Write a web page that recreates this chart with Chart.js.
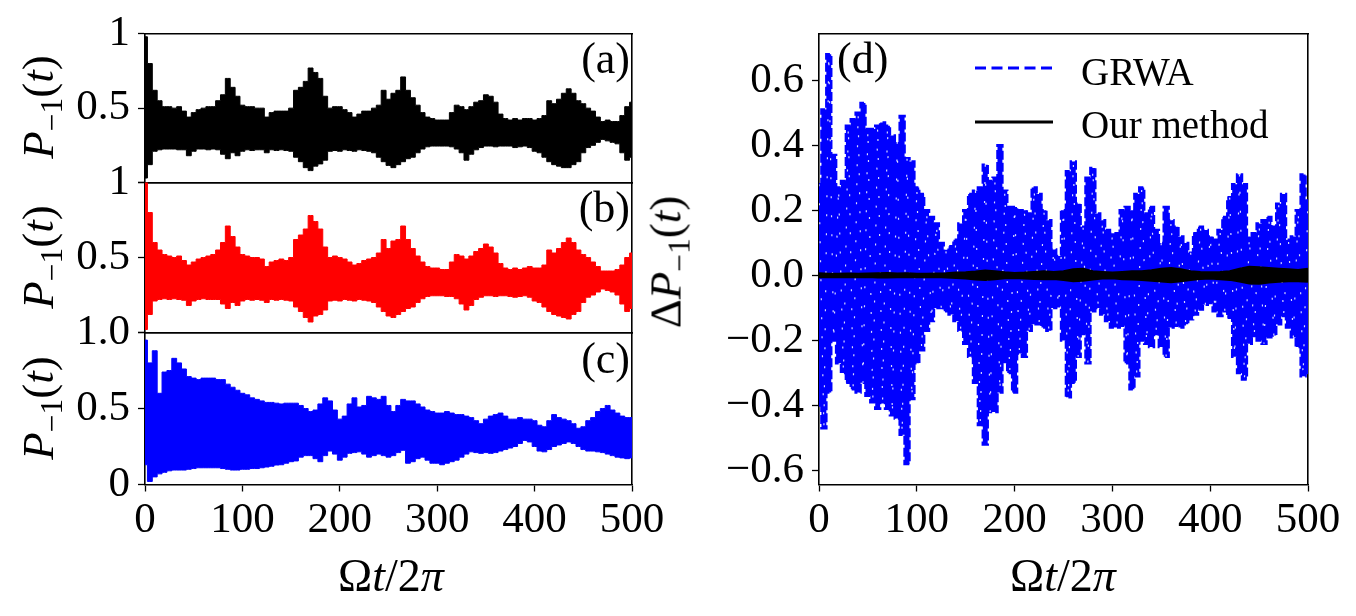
<!DOCTYPE html>
<html>
<head>
<meta charset="utf-8">
<script src="https://cdn.jsdelivr.net/npm/chart.js@4.4.1/dist/chart.umd.min.js"></script>
<style>
  body { margin: 0; background: #fff; }
  #wrap { position: relative; width: 1356px; height: 616px; overflow: hidden; background: #fff; }
  canvas { position: absolute; left: 0; top: 0; }
  .t { position: absolute; white-space: nowrap; line-height: 1; color: #000; font-family: 'Liberation Serif', serif; }
  .rot { transform: translate(-50%, -50%) rotate(-90deg); font-size: 45px; }
  .ctr { transform: translate(-50%, -50%); font-size: 46px; }
  .tag { font-size: 44px; }
  .leg { font-size: 39px; transform: translateY(-50%); }
  sub { font-size: 0.7em; vertical-align: -0.3em; line-height: 0; }
</style>
</head>
<body>
<div id="wrap">
  <canvas id="panelA" width="1356" height="616"></canvas>
  <canvas id="panelB" width="1356" height="616"></canvas>
  <canvas id="panelC" width="1356" height="616"></canvas>
  <canvas id="panelD" width="1356" height="616"></canvas>

  <div class="t rot" style="left:38px; top:107px"><i>P</i><sub>−1</sub>(<i>t</i>)</div>
  <div class="t rot" style="left:38px; top:257px"><i>P</i><sub>−1</sub>(<i>t</i>)</div>
  <div class="t rot" style="left:38px; top:408px"><i>P</i><sub>−1</sub>(<i>t</i>)</div>
  <div class="t rot" style="left:666px; top:262px">Δ<i>P</i><sub>−1</sub>(<i>t</i>)</div>
  <div class="t ctr" style="left:391px; top:576px">Ω<i>t</i>/2<i>π</i></div>
  <div class="t ctr" style="left:1063px; top:576px">Ω<i>t</i>/2<i>π</i></div>

  <div class="t tag" style="right:726px; top:37px">(a)</div>
  <div class="t tag" style="right:726px; top:186px">(b)</div>
  <div class="t tag" style="right:726px; top:337px">(c)</div>
  <div class="t tag" style="left:837px; top:37px">(d)</div>

  <svg class="t" style="left:973px; top:60px" width="82" height="16">
    <line x1="2" y1="8" x2="80" y2="8" stroke="#0000ff" stroke-width="3" stroke-dasharray="11,5.5"/>
  </svg>
  <svg class="t" style="left:973px; top:114px" width="82" height="16">
    <line x1="2" y1="8" x2="80" y2="8" stroke="#000" stroke-width="3"/>
  </svg>
  <div class="t leg" style="left:1081px; top:71px">GRWA</div>
  <div class="t leg" style="left:1081px; top:124px">Our method</div>
</div>

<script>
// Axis ticks
const xTicks = [0, 100, 200, 300, 400, 500];
const yTicksABC = [0, 0.5, 1];
const yLabelsA = ['', '0.5', '1'];
const yLabelsB = ['', '0.5', '1'];
const yLabelsC = ['0', '0.5', '1.0'];
const yTicksD = [-0.6, -0.4, -0.2, 0, 0.2, 0.4, 0.6];
const yLabelsD = ['−0.6', '−0.4', '−0.2', '0.0', '0.2', '0.4', '0.6'];

const times = [
    0, 5, 10, 15, 20, 25, 30, 35, 40, 45,
    50, 55, 60, 65, 70, 75, 80, 85, 90, 95,
    100, 105, 110, 115, 120, 125, 130, 135, 140, 145,
    150, 155, 160, 165, 170, 175, 180, 185, 190, 195,
    200, 205, 210, 215, 220, 225, 230, 235, 240, 245,
    250, 255, 260, 265, 270, 275, 280, 285, 290, 295,
    300, 305, 310, 315, 320, 325, 330, 335, 340, 345,
    350, 355, 360, 365, 370, 375, 380, 385, 390, 395,
    400, 405, 410, 415, 420, 425, 430, 435, 440, 445,
    450, 455, 460, 465, 470, 475, 480, 485, 490, 495,
    500
];

// (a) upper / lower envelope of P_-1(t)
const aUpper = [
    0.98, 0.80, 0.62, 0.55, 0.51, 0.51, 0.50, 0.51, 0.48, 0.44,
    0.47, 0.49, 0.50, 0.51, 0.51, 0.55, 0.59, 0.70, 0.64, 0.58,
    0.52, 0.51, 0.51, 0.50, 0.50, 0.44, 0.47, 0.48, 0.48, 0.48,
    0.50, 0.62, 0.64, 0.68, 0.77, 0.74, 0.70, 0.58, 0.50, 0.51,
    0.51, 0.49, 0.47, 0.44, 0.46, 0.48, 0.48, 0.50, 0.52, 0.62,
    0.56, 0.60, 0.62, 0.71, 0.62, 0.57, 0.52, 0.47, 0.44, 0.43,
    0.42, 0.42, 0.42, 0.47, 0.52, 0.51, 0.49, 0.51, 0.54, 0.55,
    0.59, 0.58, 0.54, 0.46, 0.43, 0.42, 0.43, 0.42, 0.43, 0.43,
    0.42, 0.43, 0.45, 0.55, 0.53, 0.56, 0.60, 0.63, 0.60, 0.55,
    0.53, 0.50, 0.48, 0.44, 0.41, 0.42, 0.41, 0.41, 0.45, 0.51,
    0.54
];
const aLower = [
    0.03, 0.12, 0.21, 0.22, 0.225, 0.225, 0.225, 0.22, 0.22, 0.18,
    0.21, 0.225, 0.225, 0.22, 0.225, 0.22, 0.19, 0.16, 0.20, 0.18,
    0.21, 0.22, 0.215, 0.22, 0.22, 0.20, 0.22, 0.215, 0.22, 0.215,
    0.21, 0.17, 0.14, 0.10, 0.08, 0.11, 0.125, 0.15, 0.21, 0.215,
    0.21, 0.22, 0.215, 0.21, 0.22, 0.215, 0.21, 0.20, 0.17, 0.14,
    0.115, 0.10, 0.12, 0.14, 0.16, 0.17, 0.20, 0.225, 0.24, 0.245,
    0.245, 0.245, 0.245, 0.24, 0.225, 0.20, 0.15, 0.19, 0.22, 0.235,
    0.245, 0.245, 0.24, 0.245, 0.245, 0.245, 0.235, 0.24, 0.245, 0.235,
    0.21, 0.20, 0.17, 0.14, 0.12, 0.11, 0.10, 0.10, 0.12, 0.14,
    0.20, 0.235, 0.25, 0.27, 0.29, 0.28, 0.27, 0.26, 0.20, 0.15,
    0.17
];

// (b)
const bUpper = [
    1.00, 0.80, 0.60, 0.55, 0.52, 0.51, 0.50, 0.51, 0.48, 0.45,
    0.47, 0.49, 0.50, 0.51, 0.52, 0.55, 0.60, 0.71, 0.64, 0.57,
    0.52, 0.51, 0.50, 0.50, 0.49, 0.44, 0.47, 0.48, 0.49, 0.48,
    0.50, 0.62, 0.65, 0.69, 0.78, 0.74, 0.69, 0.57, 0.50, 0.51,
    0.50, 0.49, 0.47, 0.45, 0.46, 0.48, 0.49, 0.50, 0.53, 0.62,
    0.56, 0.61, 0.62, 0.71, 0.62, 0.56, 0.51, 0.47, 0.44, 0.43,
    0.43, 0.42, 0.42, 0.47, 0.52, 0.51, 0.49, 0.51, 0.54, 0.56,
    0.59, 0.57, 0.53, 0.46, 0.43, 0.42, 0.43, 0.42, 0.43, 0.44,
    0.43, 0.43, 0.45, 0.55, 0.53, 0.56, 0.60, 0.63, 0.60, 0.55,
    0.52, 0.50, 0.47, 0.44, 0.41, 0.41, 0.41, 0.42, 0.45, 0.50,
    0.53
];
const bLower = [
    0.02, 0.12, 0.21, 0.22, 0.225, 0.22, 0.225, 0.22, 0.215, 0.18,
    0.21, 0.22, 0.225, 0.22, 0.22, 0.22, 0.19, 0.16, 0.20, 0.18,
    0.21, 0.22, 0.215, 0.22, 0.215, 0.20, 0.22, 0.215, 0.22, 0.215,
    0.21, 0.17, 0.14, 0.10, 0.07, 0.11, 0.12, 0.15, 0.21, 0.215,
    0.21, 0.22, 0.215, 0.21, 0.22, 0.215, 0.21, 0.20, 0.17, 0.14,
    0.11, 0.10, 0.12, 0.14, 0.16, 0.17, 0.20, 0.225, 0.24, 0.245,
    0.245, 0.245, 0.24, 0.24, 0.225, 0.19, 0.15, 0.18, 0.22, 0.235,
    0.245, 0.245, 0.24, 0.245, 0.245, 0.24, 0.235, 0.24, 0.245, 0.235,
    0.21, 0.20, 0.17, 0.14, 0.12, 0.11, 0.10, 0.09, 0.12, 0.14,
    0.20, 0.235, 0.25, 0.27, 0.29, 0.28, 0.27, 0.25, 0.19, 0.14,
    0.16
];

// (c)
const cUpper = [
    0.95, 0.80, 0.88, 0.60, 0.74, 0.75, 0.83, 0.80, 0.76, 0.71,
    0.70, 0.69, 0.70, 0.70, 0.70, 0.69, 0.69, 0.66, 0.64, 0.62,
    0.60, 0.59, 0.57, 0.56, 0.55, 0.54, 0.54, 0.535, 0.53, 0.535,
    0.535, 0.535, 0.52, 0.50, 0.48, 0.49, 0.53, 0.57, 0.55, 0.49,
    0.43, 0.45, 0.53, 0.57, 0.51, 0.52, 0.58, 0.57, 0.56, 0.58,
    0.52, 0.48, 0.52, 0.56, 0.55, 0.55, 0.53, 0.51, 0.49, 0.48,
    0.47, 0.47, 0.48, 0.47, 0.46, 0.46, 0.45, 0.44, 0.42, 0.40,
    0.43, 0.45, 0.46, 0.47, 0.45, 0.43, 0.43, 0.44, 0.43, 0.43,
    0.42, 0.39, 0.38, 0.42, 0.46, 0.44, 0.43, 0.42, 0.40, 0.37,
    0.38, 0.42, 0.44, 0.48, 0.50, 0.52, 0.49, 0.47, 0.45, 0.44,
    0.44
];
const cLower = [
    0.13, 0.02, 0.05, 0.07, 0.08, 0.09, 0.095, 0.095, 0.095, 0.10,
    0.105, 0.11, 0.11, 0.11, 0.11, 0.11, 0.105, 0.10, 0.095, 0.095,
    0.10, 0.10, 0.105, 0.105, 0.11, 0.115, 0.12, 0.128, 0.13, 0.14,
    0.15, 0.155, 0.18, 0.19, 0.19, 0.17, 0.15, 0.19, 0.22, 0.20,
    0.16, 0.18, 0.205, 0.21, 0.215, 0.20, 0.18, 0.19, 0.20, 0.19,
    0.18, 0.19, 0.21, 0.225, 0.14, 0.15, 0.17, 0.18, 0.16, 0.14,
    0.14, 0.13, 0.14, 0.15, 0.16, 0.18, 0.20, 0.215, 0.21, 0.205,
    0.21, 0.205, 0.21, 0.22, 0.23, 0.24, 0.25, 0.27, 0.29, 0.28,
    0.25, 0.22, 0.215, 0.23, 0.25, 0.26, 0.27, 0.28, 0.27, 0.25,
    0.23, 0.22, 0.22, 0.215, 0.21, 0.20, 0.19, 0.18, 0.175, 0.17,
    0.175
];

// (d) GRWA error envelope
const grwaUpper = [
    0.28, 0.51, 0.68, 0.37, 0.27, 0.29, 0.46, 0.48, 0.50, 0.53,
    0.45, 0.45, 0.46, 0.47, 0.46, 0.43, 0.41, 0.49, 0.36, 0.35,
    0.27, 0.25, 0.20, 0.18, 0.16, 0.10, 0.075, 0.09, 0.11, 0.16,
    0.20, 0.25, 0.26, 0.27, 0.34, 0.29, 0.30, 0.40, 0.26, 0.21,
    0.21, 0.20, 0.20, 0.19, 0.27, 0.25, 0.20, 0.17, 0.08, 0.06,
    0.20, 0.32, 0.35, 0.22, 0.15, 0.30, 0.33, 0.19, 0.17, 0.14,
    0.13, 0.13, 0.20, 0.21, 0.20, 0.25, 0.27, 0.19, 0.21, 0.14,
    0.10, 0.21, 0.17, 0.15, 0.12, 0.10, 0.07, 0.13, 0.15, 0.14,
    0.12, 0.11, 0.14, 0.18, 0.24, 0.28, 0.31, 0.28, 0.12, 0.13,
    0.16, 0.17, 0.18, 0.15, 0.22, 0.25, 0.11, 0.12, 0.20, 0.31,
    0.23
];
const grwaLower = [
    -0.40, -0.47, -0.36, -0.20, -0.27, -0.30, -0.33, -0.35, -0.36, -0.33,
    -0.37, -0.39, -0.41, -0.39, -0.41, -0.43, -0.44, -0.49, -0.58, -0.38,
    -0.27, -0.23, -0.17, -0.14, -0.10, -0.10, -0.11, -0.12, -0.14, -0.17,
    -0.21, -0.25, -0.33, -0.46, -0.52, -0.42, -0.42, -0.36, -0.27, -0.30,
    -0.36, -0.24, -0.25, -0.17, -0.15, -0.15, -0.16, -0.17, -0.10, -0.095,
    -0.20, -0.375, -0.33, -0.25, -0.18, -0.27, -0.11, -0.10, -0.12, -0.14,
    -0.16, -0.16, -0.155, -0.27, -0.35, -0.31, -0.20, -0.21, -0.22, -0.18,
    -0.22, -0.25, -0.16, -0.155, -0.16, -0.15, -0.135, -0.12, -0.105, -0.09,
    -0.085, -0.11, -0.125, -0.11, -0.13, -0.25, -0.30, -0.32, -0.21, -0.19,
    -0.20, -0.21, -0.19, -0.185, -0.15, -0.125, -0.16, -0.19, -0.22, -0.31,
    -0.30
];

// (d) our method error envelope
const timesOurs = [
    0, 10, 20, 30, 40, 50, 60, 70, 80, 90,
    100, 110, 120, 130, 140, 150, 160, 170, 180, 190,
    200, 210, 220, 230, 240, 250, 260, 270, 280, 290,
    300, 310, 320, 330, 340, 350, 360, 370, 380, 390,
    400, 410, 420, 430, 440, 450, 460, 470, 480, 490,
    500
];
const oursUpper = [
    0.006, 0.004, 0.004, 0.005, 0.004, 0.005, 0.006, 0.007, 0.005, 0.006,
    0.004, 0.004, 0.005, 0.006, 0.008, 0.009, 0.011, 0.014, 0.012, 0.009,
    0.007, 0.008, 0.010, 0.012, 0.010, 0.012, 0.018, 0.020, 0.012, 0.010,
    0.008, 0.010, 0.012, 0.012, 0.015, 0.020, 0.022, 0.018, 0.012, 0.010,
    0.009, 0.010, 0.012, 0.020, 0.026, 0.024, 0.022, 0.020, 0.018, 0.016,
    0.020
];
const oursLower = [
    -0.005, -0.004, -0.005, -0.004, -0.005, -0.004, -0.006, -0.006, -0.005, -0.005,
    -0.004, -0.005, -0.004, -0.006, -0.007, -0.009, -0.012, -0.013, -0.011, -0.008,
    -0.007, -0.009, -0.010, -0.011, -0.010, -0.013, -0.017, -0.016, -0.012, -0.009,
    -0.008, -0.011, -0.012, -0.013, -0.016, -0.018, -0.020, -0.017, -0.013, -0.010,
    -0.009, -0.011, -0.013, -0.018, -0.024, -0.025, -0.021, -0.019, -0.017, -0.017,
    -0.019
];

const W = 1356, H = 616;
const tickFont = { family: 'Liberation Serif', size: 43 };
const frame = { display: true, color: '#000', width: 1.6 };

const pts = (xs, ys) => xs.map((x, i) => ({ x: x, y: ys[i] }));

// GRWA curve swings from one envelope to the other between samples
const swing = (xs, hi, lo) => xs.map((x, i) => ({ x: x, y: i % 2 ? lo[i] : hi[i] }));

// one panel, chart area pinned to box
function makePanel(id, box, datasets, yAxis) {
    const showX = !!box.showX;
    return new Chart(document.getElementById(id), {
        type: 'line',
        data: { datasets: datasets },
        options: {
            responsive: false,
            animation: false,
            devicePixelRatio: 1,
            layout: {
                padding: { left: 0, top: box.top, right: W - box.right, bottom: showX ? 0 : H - box.bottom }
            },
            plugins: { legend: { display: false }, tooltip: { enabled: false } },
            elements: { point: { radius: 0 }, line: { tension: 0 } },
            scales: {
                x: {
                    type: 'linear', position: 'bottom', min: 0, max: 500,
                    afterBuildTicks: s => { s.ticks = xTicks.map(v => ({ value: v })); },
                    afterFit: s => { s.height = showX ? H - box.bottom : 0; },
                    ticks: { display: showX, autoSkip: false, maxRotation: 0, padding: 3, color: '#000', font: tickFont },
                    grid: { drawOnChartArea: false, drawTicks: showX, tickLength: 7, tickWidth: 1.3, tickColor: '#000' },
                    border: frame
                },
                xTop: {
                    type: 'linear', position: 'top', min: 0, max: 500,
                    afterFit: s => { s.height = 0; },
                    ticks: { display: false },
                    grid: { display: false, drawTicks: false },
                    border: frame
                },
                y: {
                    type: 'linear', position: 'left', min: yAxis.min, max: yAxis.max,
                    afterBuildTicks: s => { s.ticks = yAxis.ticks.map(v => ({ value: v })); },
                    afterFit: s => { s.width = box.left; },
                    ticks: { autoSkip: false, padding: 8, color: '#000', font: tickFont, callback: (v, i) => yAxis.labels[i] },
                    grid: { drawOnChartArea: false, tickLength: 7, tickWidth: 1.3, tickColor: '#000' },
                    border: frame
                },
                yRight: {
                    type: 'linear', position: 'right', min: yAxis.min, max: yAxis.max,
                    afterFit: s => { s.width = 0; },
                    ticks: { display: false },
                    grid: { display: false, drawTicks: false },
                    border: frame
                }
            }
        }
    });
}

function band(xs, upper, lower, color) {
    return [
        { data: pts(xs, upper), borderColor: color, backgroundColor: color, borderWidth: 1, stepped: 'middle', fill: '+1' },
        { data: pts(xs, lower), borderColor: color, backgroundColor: color, borderWidth: 1, stepped: 'middle', fill: false }
    ];
}

makePanel('panelA', { left: 145, right: 632, top: 31.5, bottom: 182.5 },
    band(times, aUpper, aLower, '#000000'),
    { min: 0, max: 1, ticks: yTicksABC, labels: yLabelsA });

makePanel('panelB', { left: 145, right: 632, top: 182.5, bottom: 332.5 },
    band(times, bUpper, bLower, '#ff0000'),
    { min: 0, max: 1, ticks: yTicksABC, labels: yLabelsB });

makePanel('panelC', { left: 145, right: 632, top: 332.5, bottom: 484.5, showX: true },
    band(times, cUpper, cLower, '#0000ff'),
    { min: 0, max: 1, ticks: yTicksABC, labels: yLabelsC });

makePanel('panelD', { left: 819, right: 1308, top: 31.5, bottom: 484.5, showX: true },
    [
        { data: pts(timesOurs, oursUpper), borderColor: '#000', backgroundColor: '#000', borderWidth: 2.5, fill: '+1' },
        { data: pts(timesOurs, oursLower), borderColor: '#000', backgroundColor: '#000', borderWidth: 2.5, fill: false },
        { data: swing(times, grwaUpper, grwaLower), borderColor: 'rgba(255,255,255,0.85)', borderWidth: 1.2, borderDash: [2, 17], fill: false },
        { data: pts(times, grwaUpper), borderColor: '#0000ff', backgroundColor: '#0000ff', borderWidth: 2.5, borderDash: [9, 3], stepped: 'middle', fill: '+1' },
        { data: pts(times, grwaLower), borderColor: '#0000ff', backgroundColor: '#0000ff', borderWidth: 2.5, borderDash: [9, 3], stepped: 'middle', fill: false }
    ],
    { min: -0.643, max: 0.743, ticks: yTicksD, labels: yLabelsD });
</script>
</body>
</html>
